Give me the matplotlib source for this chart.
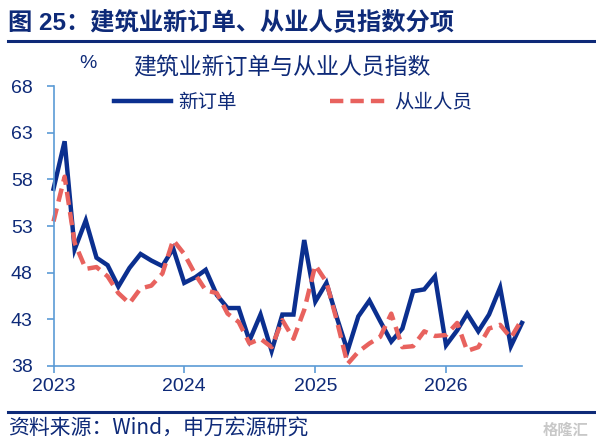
import matplotlib
matplotlib.use("Agg")
import matplotlib.pyplot as plt
import pandas as pd

plt.rcParams['font.family'] = ['Liberation Sans', 'Noto Sans CJK SC', 'DejaVu Sans']

start_month = "2023-01-01"
new_orders = [57.0, 62.1, 50.5, 53.6, 49.6, 48.8, 46.5, 48.5, 50.0, 49.3, 48.7, 50.6,
              46.9, 47.5, 48.3, 45.6, 44.2, 44.2, 40.7, 43.5, 39.6, 43.5, 43.5, 51.5,
              44.9, 46.9, 43.3, 39.6, 43.3, 45.0, 42.8, 40.6, 42.0, 46.0, 46.2, 47.6,
              40.2, 41.8, 43.6, 41.7, 43.5, 46.4, 40.1, 42.6]
employment = [53.5, 58.3, 51.2, 48.4, 48.6, 47.6, 45.8, 44.7, 46.3, 46.6, 47.9, 51.5,
              50.0, 47.8, 46.1, 45.8, 43.6, 42.7, 40.4, 40.9, 40.0, 42.9, 40.9, 44.0,
              48.8, 47.0, 43.0, 38.2, 39.5, 40.4, 41.1, 43.6, 40.0, 40.1, 41.7, 41.2,
              41.3, 42.6, 39.6, 40.0, 42.0, 42.4, 41.0, 43.0]
y_ticks = [38, 43, 48, 53, 58, 63, 68]
x_tick_years = ["2023", "2024", "2025", "2026"]
series_names = ["新订单", "从业人员"]
title = "图 25：建筑业新订单、从业人员指数分项"
subtitle = "建筑业新订单与从业人员指数"
source = "资料来源：Wind，申万宏源研究"

dates = pd.date_range(start_month, periods=len(new_orders), freq="MS")

navy = "#0E2A78"
blue = "#0B2F8F"
red = "#E8625E"
spine_c = "#5B9BD5"
W, H = 596, 445

fig = plt.figure(figsize=(5.96, 4.45), dpi=100)
ax = fig.add_axes([0.0898, 0.178, 0.786, 0.628])

l1, = ax.plot(dates, new_orders, color=blue, lw=3.2, solid_joinstyle='miter')
l2, = ax.plot(dates, employment, color=red, lw=3.2, dashes=(3.0, 1.6))
l1.set_clip_on(False)
l2.set_clip_on(False)

ax.set_ylim(38, 68)
ax.set_yticks(y_ticks)
ax.set_xlim(dates[0], dates[-1])
ax.set_xticks([pd.Timestamp(f"{y}-01-01") for y in x_tick_years])
ax.set_xticklabels(x_tick_years)

for s in ['top', 'right']:
    ax.spines[s].set_visible(False)
for s in ['left', 'bottom']:
    ax.spines[s].set_color(spine_c)
    ax.spines[s].set_linewidth(1.2)
ax.tick_params(axis='both', colors=spine_c, labelcolor=navy, labelsize=14, length=5, width=1.2)
ax.tick_params(axis='x', pad=4)
ax.tick_params(axis='y', pad=10)

# title and rules
fig.text(8 / W, 1 - 22 / H, title, fontsize=17.5, fontweight='bold', color=navy,
         family=['Liberation Sans', 'Noto Sans CJK SC'], va='center', ha='left')
fig.add_artist(plt.Line2D([8 / W, 1.0], [1 - 41 / H, 1 - 41 / H], color=navy, lw=2.2))
fig.add_artist(plt.Line2D([8 / W, 1.0], [1 - 412 / H, 1 - 412 / H], color=navy, lw=2.2))

fig.text(88 / W, 1 - 64 / H, "%", fontsize=14, color=navy, ha='center', va='center')
fig.text(282 / W, 1 - 68 / H, subtitle, fontsize=16.5, color=navy, ha='center', va='center',
         family=['Noto Sans CJK SC'])

fs_leg = 14
leg_px = fs_leg * 100 / 72
for line, name, x0 in [(l1, series_names[0], 112), (l2, series_names[1], 328)]:
    lg = fig.legend([line], [name], loc='center left',
                    bbox_to_anchor=((x0 - 0.82 * leg_px) / W, 1 - 102 / H),
                    frameon=False, handlelength=2.95, handletextpad=0.4,
                    prop={'family': ['Noto Sans CJK SC'], 'size': fs_leg})
    for t in lg.get_texts():
        t.set_color(navy)

fig.text(8 / W, 1 - 428 / H, source, fontsize=15, color=navy, ha='left', va='center',
         family=['Noto Sans CJK SC', 'Liberation Sans'])
fig.text(588 / W, 1 - 430 / H, "格隆汇", fontsize=11, color="#C8C8C8", ha='right', va='center',
         family=['Noto Sans CJK SC'], fontweight='bold')

fig.savefig("out.png", dpi=100)
